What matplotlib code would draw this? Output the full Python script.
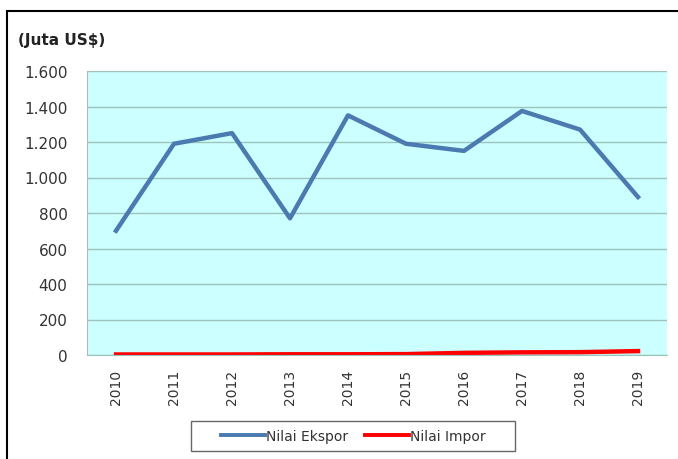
import matplotlib
matplotlib.use("Agg")
import matplotlib.pyplot as plt
from matplotlib.patches import Rectangle
from matplotlib.ticker import FuncFormatter

years = ["2010", "2011", "2012", "2013", "2014", "2015", "2016", "2017", "2018", "2019"]
nilai_ekspor = [700, 1190, 1250, 770, 1350, 1190, 1150, 1375, 1270, 890]
nilai_impor = [3, 3, 3, 4, 4, 5, 12, 15, 16, 22]
y_ticks = [0, 200, 400, 600, 800, 1000, 1200, 1400, 1600]

W, H = 678, 460
fig = plt.figure(figsize=(W / 100, H / 100), dpi=100)
fig.patch.set_facecolor("white")

# outer chart frame (runs off the right and bottom edges)
fig.patches.append(Rectangle((7 / W, -0.05), 1.1, (H - 12) / H + 0.05,
                             transform=fig.transFigure, fill=False,
                             edgecolor="black", linewidth=1.5))

ax = fig.add_axes([87 / W, (H - 356) / H, 580 / W, 284 / H])
ax.set_facecolor("#CCFFFF")

x = list(range(len(years)))
ax.plot(x, nilai_ekspor, color="#4A7AB0", linewidth=3.2, label="Nilai Ekspor")
ax.plot(x, nilai_impor, color="#FF0000", linewidth=3.2, label="Nilai Impor")

ax.set_xlim(-0.5, len(years) - 0.5)
ax.set_ylim(0, 1600)
ax.set_yticks(y_ticks)
ax.yaxis.set_major_formatter(FuncFormatter(lambda v, p: f"{int(v):,}".replace(",", ".")))
ax.set_xticks(x)
ax.set_xticklabels(years, rotation=90)
ax.grid(axis="y", color="#9CC4BC", linewidth=1.0)
ax.set_axisbelow(True)
ax.tick_params(axis="both", length=0, colors="#333333")
ax.tick_params(axis="y", labelsize=11, pad=14)
ax.tick_params(axis="x", labelsize=10, pad=10)
for side in ["top", "right"]:
    ax.spines[side].set_visible(False)
ax.spines["left"].set_color("#B8B8B8")
ax.spines["bottom"].set_color("#9CC4BC")

fig.text(18 / W, 1 - 41 / H, "(Juta US$)", fontsize=11, fontweight="bold",
         va="center", ha="left", color="#222222")

# legend box
fig.patches.append(Rectangle((191 / W, 1 - 452 / H), 324 / W, 30 / H,
                             transform=fig.transFigure, fill=False,
                             edgecolor="#666666", linewidth=1.0))
leg = fig.legend(loc="center", bbox_to_anchor=(353 / W, 1 - 437 / H), ncol=2,
                 frameon=False, fontsize=10, handlelength=3.2,
                 handletextpad=0.05, columnspacing=1.2, labelcolor="#333333")
for line in leg.get_lines():
    line.set_linewidth(2.8)

fig.savefig("out.png", dpi=100)
